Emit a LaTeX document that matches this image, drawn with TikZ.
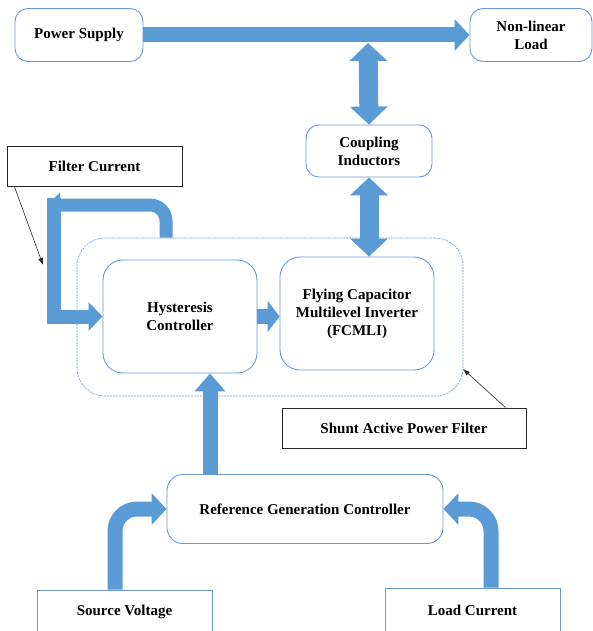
\documentclass[tikz,border=0pt]{standalone}
\usepackage{fontspec}
\setmainfont{Liberation Serif}
\usetikzlibrary{arrows.meta, calc}

\definecolor{arrblue}{HTML}{5B9BD5}
\definecolor{boxblue}{HTML}{6A98D6}

\tikzset{
    txt/.style={font=\fontsize{15}{18}\selectfont\bfseries, align=center, inner sep=0pt},
    rbox/.style={txt, draw=boxblue, line width=0.9pt, rounded corners=13pt},
    sbox/.style={txt, draw=boxblue, line width=0.9pt},
    lbox/.style={txt, draw=black!85, line width=0.9pt},
    fat/.style={arrblue, line width=15pt, -{Triangle[length=15pt,width=31pt]}},
    dfat/.style={arrblue, line width=19pt, {Triangle[length=18pt,width=37pt]}-{Triangle[length=18pt,width=37pt]}},
    pointer/.style={black!85, line width=0.6pt, -{Latex[length=7pt,width=5pt]}}
}

\begin{document}
\begin{tikzpicture}[x=1pt, y=-1pt]
    \useasboundingbox (0,0) rectangle (593,631);

    % blocks
    \node[rbox, minimum width=128pt, minimum height=53pt] (ps) at (79,35) {Power Supply};
    \node[rbox, minimum width=122pt, minimum height=53pt] (load) at (531,35) {Non-linear\\Load};
    \node[rbox, minimum width=126pt, minimum height=52pt] (coup) at (369,151) {Coupling\\Inductors};
    \node[draw=boxblue, dash pattern=on 2pt off 1pt, line width=0.6pt, rounded corners=28pt,
          minimum width=386pt, minimum height=158pt] (sapf) at (270,317) {};
    \node[rbox, rounded corners=20pt, minimum width=154pt, minimum height=113pt] (hyst) at (180,316.5) {Hysteresis\\Controller};
    \node[rbox, rounded corners=20pt, minimum width=154pt, minimum height=113pt] (fcmli) at (357,313.5) {Flying Capacitor\\Multilevel Inverter\\(FCMLI)};
    \node[rbox, rounded corners=16pt, minimum width=276pt, minimum height=69pt] (ref) at (305,509) {Reference Generation Controller};

    % labels
    \node[lbox, minimum width=175pt, minimum height=40pt] (filt) at (94.5,166.5) {Filter Current};
    \node[lbox, minimum width=244pt, minimum height=40pt] (shunt) at (404,428) {Shunt Active Power Filter};
    \node[sbox, minimum width=175pt, minimum height=44pt] (src) at (124.5,612) {Source Voltage};
    \node[sbox, minimum width=175pt, minimum height=44pt] (lc) at (472.5,610) {Load Current};

    \coordinate (tap) at (368,43);
    \coordinate (fcout) at (166,0);
    \coordinate (fcin) at (47,205);
    \coordinate (fcdown) at (54,198);
    \coordinate (rg) at (210,0);
    \coordinate (fcptr) at (43,265);
    \coordinate (sptr) at (463,369);

    % power flow
    \draw[fat] (ps.east) -- (load.west);
    \draw[dfat] (tap) -- (coup.north);
    \draw[dfat] (coup.south) -- (coup.south |- fcmli.north);

    % filter current feedback
    \draw[fat, line width=13pt, -{Triangle[length=13pt,width=24pt]}, rounded corners=16pt]
        (fcout |- sapf.north) |- (fcin);
    \draw[fat, line width=14pt, -{Triangle[length=14pt,width=28pt]}]
        (fcdown) |- (hyst.west);
    \draw[fat, -{Triangle[length=12pt,width=31pt]}] (hyst.east) -- (hyst.east -| fcmli.west);

    % reference path
    \draw[fat, -{Triangle[length=18pt,width=30pt]}] (rg |- ref.north) -- (rg |- hyst.south);
    \draw[fat, rounded corners=22pt] ($(src.north)+(-9.5,0)$) |- (ref.west);
    \draw[fat, rounded corners=22pt] ($(lc.north)+(18.5,0)$) |- (ref.east);

    % pointers
    \draw[pointer] ($(filt.south west)+(8,0)$) -- (fcptr);
    \draw[pointer] ($(shunt.north east)+(-21,0)$) -- (sptr);
\end{tikzpicture}
\end{document}
